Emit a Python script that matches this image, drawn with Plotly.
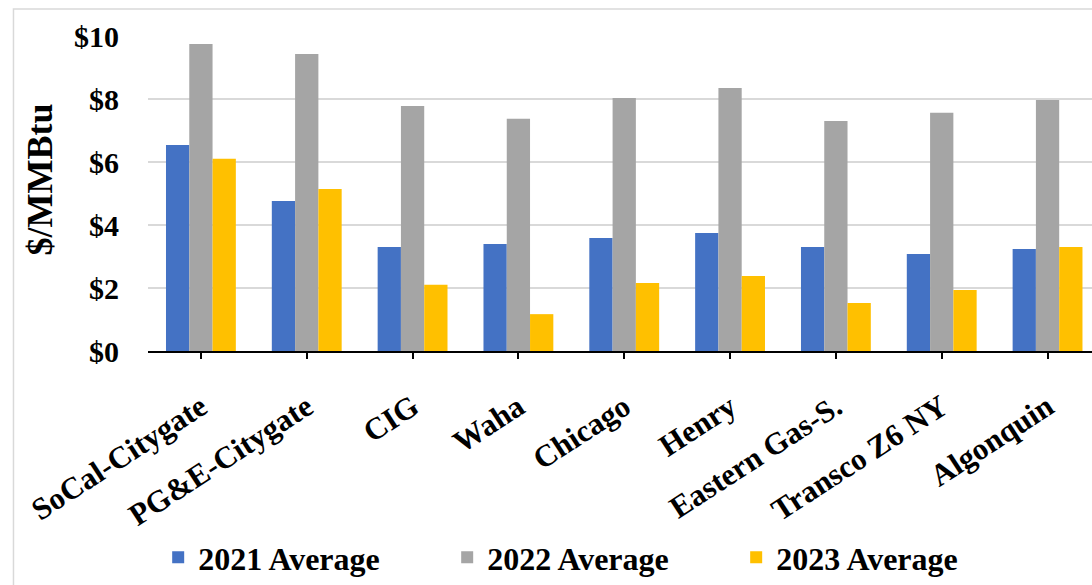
import plotly.graph_objects as go

categories = ["SoCal-Citygate", "PG&E-Citygate", "CIG", "Waha", "Chicago",
              "Henry", "Eastern Gas-S.", "Transco Z6 NY", "Algonquin"]
avg_2021 = [6.54, 4.76, 3.30, 3.40, 3.59, 3.75, 3.30, 3.08, 3.24]
avg_2022 = [9.75, 9.43, 7.78, 7.37, 8.03, 8.35, 7.30, 7.56, 7.97]
avg_2023 = [6.10, 5.14, 2.10, 1.17, 2.16, 2.38, 1.52, 1.94, 3.30]
series_names = ["2021 Average", "2022 Average", "2023 Average"]
colors = ["#4472C4", "#A5A5A5", "#FFC000"]
y_ticks = [0, 2, 4, 6, 8, 10]
y_ticktext = ["$" + str(v) for v in y_ticks]

FONT = "Liberation Serif"

fig = go.Figure()
for name, vals, col in zip(series_names, [avg_2021, avg_2022, avg_2023], colors):
    fig.add_trace(go.Bar(x=list(range(len(categories))), y=vals, name=name,
                         marker=dict(color=col, line=dict(width=0))))

fig.update_layout(
    width=1092, height=585,
    margin=dict(l=148, r=0, t=36, b=234),
    paper_bgcolor="white", plot_bgcolor="white",
    barmode="group", bargap=0.34, bargroupgap=0,
    font=dict(color="black"),
    showlegend=True,
    legend=dict(orientation="h", x=0.47, xanchor="center", y=-0.657, yanchor="middle",
                font=dict(family=FONT, size=32, weight="bold", color="black"),
                entrywidth=244, entrywidthmode="pixels",
                traceorder="normal"),
    xaxis=dict(
        tickmode="array", tickvals=list(range(len(categories))), ticktext=categories,
        range=[-0.5, 8.42], tickangle=-33,
        tickfont=dict(family=FONT, size=31, weight="bold", color="black"),
        ticks="outside", ticklen=6, tickwidth=1.5, tickcolor="black",
        showline=True, linecolor="black", linewidth=1.5,
        showgrid=False, zeroline=False, ticklabelstandoff=18,
    ),
    yaxis=dict(
        range=[0, 10], tickmode="array", tickvals=y_ticks, ticktext=y_ticktext,
        tickfont=dict(family=FONT, size=30, weight="bold", color="black"),
        showgrid=True, gridcolor="#D9D9D9", gridwidth=1.5,
        zeroline=False, showline=False, ticks="", ticklabelstandoff=28,
    ),
    annotations=[dict(text="$/MMBtu", xref="paper", yref="paper",
                      x=-0.114, y=0.546, textangle=-90, showarrow=False,
                      font=dict(family=FONT, size=36, weight="bold", color="black"),
                      xanchor="center", yanchor="middle")],
    shapes=[dict(type="rect", xref="paper", yref="paper",
                 x0=-0.1425, x1=1.2, y0=-1.0, y1=1.0857,
                 line=dict(color="#D9D9D9", width=1.5), layer="below")],
)

fig.write_html("out.html")
